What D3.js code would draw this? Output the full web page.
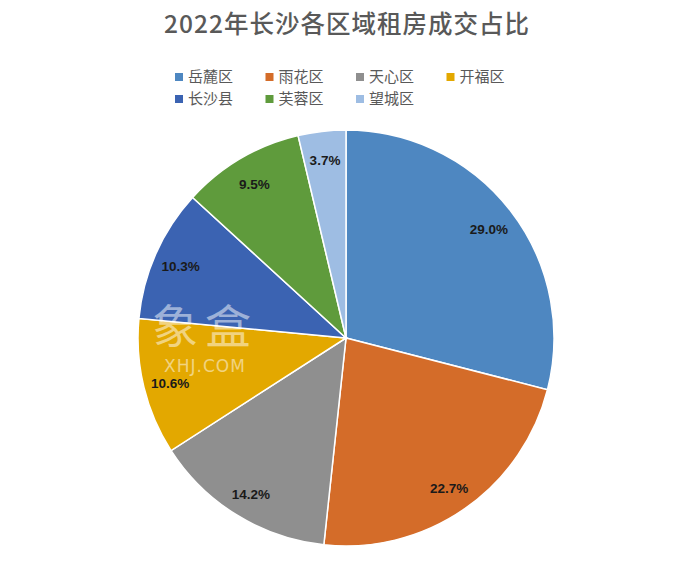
<!DOCTYPE html>
<html><head><meta charset="utf-8">
<script src="https://cdn.jsdelivr.net/npm/d3@7/dist/d3.min.js"></script>
<style>body{margin:0;background:#fff;}</style>
</head><body>
<svg id="chart" width="693" height="567"></svg>
<script>
const categories = ["岳麓区","雨花区","天心区","开福区","长沙县","芙蓉区","望城区"];
const values = [29.0, 22.7, 14.2, 10.6, 10.3, 9.5, 3.7];
const colors = ["#4E87C1","#D46C29","#8F8F8F","#E3A800","#3B63B2","#5F9B3C","#9EBDE3"];
const titleText = "2022年长沙各区域租房成交占比";

const svg = d3.select("#chart");
const font = "'Noto Sans CJK SC','Microsoft YaHei',sans-serif";

svg.append("text").attr("x", 347).attr("y", 33).attr("text-anchor","middle")
  .attr("font-family", font).attr("font-size", 24.5).attr("letter-spacing", 1)
  .attr("font-weight", 500)
  .attr("fill","#595959").text(titleText);

// legend
const legend = svg.append("g").attr("font-family", font).attr("font-size", 15).attr("fill","#595959");
categories.forEach((c,i)=>{
  const col = i < 4 ? i : i-4, row = i < 4 ? 0 : 1;
  const g = legend.append("g").attr("transform", `translate(${175 + col*90.5},${77 + row*22})`);
  g.append("rect").attr("x",0).attr("y",-4).attr("width",8).attr("height",8).attr("fill",colors[i]);
  g.append("text").attr("x",13).attr("y",0).attr("dy","0.35em").attr("fill","#595959").text(c);
});

const cx = 346, cy = 338, R = 208;
const pie = d3.pie().sort(null).value(d=>d)(values);
const arc = d3.arc().innerRadius(0).outerRadius(R);
const g = svg.append("g").attr("transform", `translate(${cx},${cy})`);
g.selectAll("path").data(pie).join("path").attr("d", arc)
  .attr("fill",(d,i)=>colors[i]).attr("stroke","#fff").attr("stroke-width",1.5);

// watermark
const wm = svg.append("g").attr("fill","#ffffff").attr("fill-opacity",0.5).attr("text-anchor","middle");
wm.append("text").attr("x",205).attr("y",343).attr("font-family", font).attr("font-size",46).attr("letter-spacing",7).text("象盒");
wm.append("text").attr("x",205).attr("y",372).attr("font-size",17).attr("letter-spacing",1)
  .attr("font-family","'DejaVu Sans',sans-serif").text("XHJ.COM");

const labelArc = d3.arc().innerRadius(R*0.87).outerRadius(R*0.87);
g.selectAll("text.lbl").data(pie).join("text").attr("class","lbl")
  .attr("transform", d=>{ const [x,y]=labelArc.centroid(d); return `translate(${x},${y+2})`; })
  .attr("text-anchor","middle").attr("dy","0.35em")
  .attr("font-family","'Liberation Sans',Arial,sans-serif").attr("font-weight","bold").attr("font-size",13.5)
  .attr("fill","#1a1a1a").text(d=>d.data.toFixed(1)+"%");
</script>
</body></html>
